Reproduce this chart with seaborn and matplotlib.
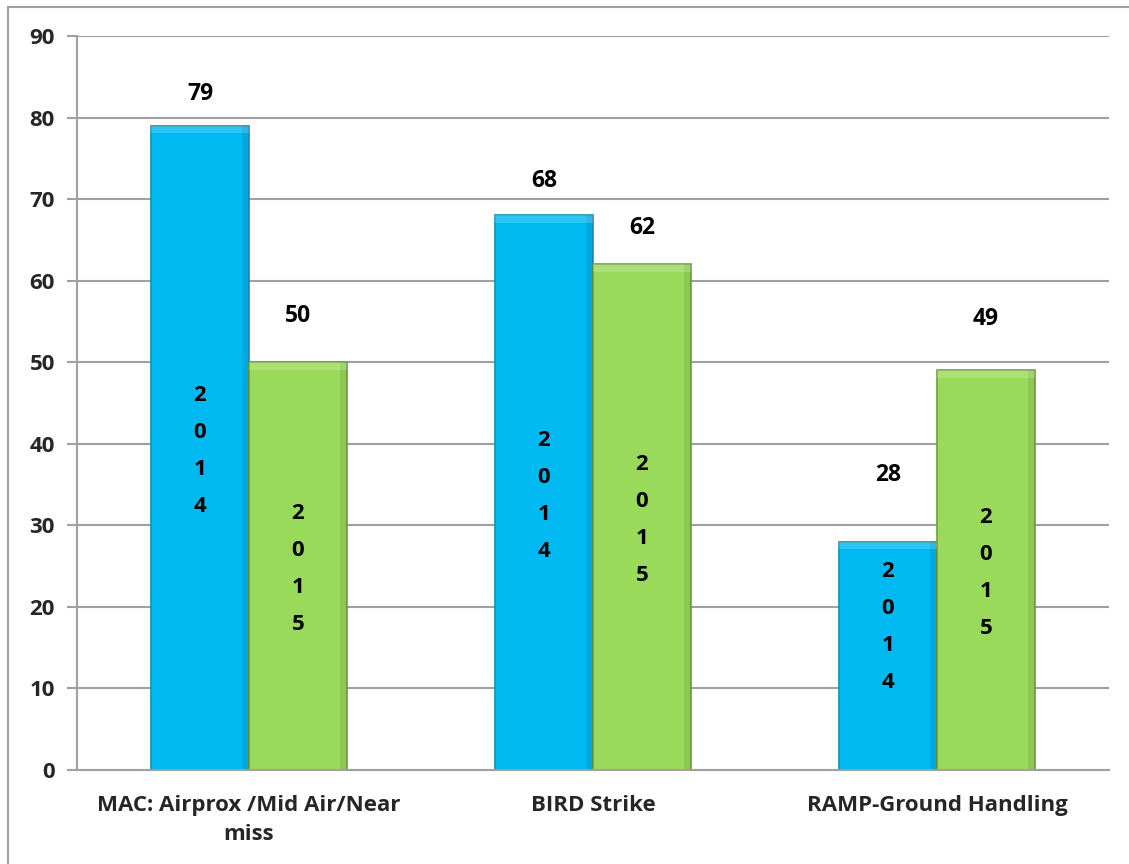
import matplotlib
matplotlib.use("Agg")
import matplotlib.pyplot as plt
import seaborn as sns
import pandas as pd
from matplotlib.patches import Rectangle

categories = ["MAC: Airprox /Mid Air/Near\nmiss", "BIRD Strike", "RAMP-Ground Handling"]
years = ["2014", "2015"]
values_2014 = [79, 68, 28]
values_2015 = [50, 62, 49]

df = pd.DataFrame({
    "category": categories * 2,
    "year": [years[0]] * 3 + [years[1]] * 3,
    "value": values_2014 + values_2015,
})

sns.set_theme(style="white")
plt.rcParams["font.family"] = ["Open Sans", "DejaVu Sans"]

fig = plt.figure(figsize=(11.29, 8.64), dpi=100)
ax = fig.add_axes([0.0682, 0.1088, 0.9141, 0.8495])

palette = {"2014": "#00B9F1", "2015": "#9ADA5A"}
edges = {"2014": "#1B8CB5", "2015": "#6E9E3C"}
sns.barplot(data=df, x="category", y="value", hue="year", order=categories,
            hue_order=years, palette=palette, width=0.57, gap=0, ax=ax,
            legend=False, saturation=1, linewidth=0)

FS = 16
ax.set_ylim(0, 90)
ax.set_xlim(-0.5, 2.5)
ax.set_yticks(range(0, 91, 10))
ax.set_yticklabels([str(v) for v in range(0, 91, 10)], fontsize=FS, fontweight="bold")
ax.set_xticks(range(3))
ax.set_xticklabels(categories, fontsize=FS, fontweight="bold", linespacing=1.5)
ax.set_xticks([-0.5, 0.5, 1.5, 2.5], minor=True)
ax.tick_params(axis="x", which="major", length=0, pad=18)
ax.tick_params(axis="x", which="minor", length=7, width=1.5, color="#A0A0A0", direction="out")
ax.tick_params(axis="y", length=7, width=1.5, color="#A0A0A0", direction="out", pad=9, left=True)
ax.set_xlabel("")
ax.set_ylabel("")
ax.yaxis.grid(True, color="#A0A0A0", linewidth=1.5)
ax.set_axisbelow(True)
for s in ["top", "right"]:
    ax.spines[s].set_visible(False)
for s in ["left", "bottom"]:
    ax.spines[s].set_color("#A0A0A0")
    ax.spines[s].set_linewidth(1.5)

# value label nudges in points (style)
offsets = [[23, 33], [25, 26], [48, 37]]

for ci, container in enumerate(ax.containers):
    yr = years[ci]
    for j, bar in enumerate(container.patches):
        x0, w, h = bar.get_x(), bar.get_width(), bar.get_height()
        bar.set_edgecolor(edges[yr])
        bar.set_linewidth(1.2)
        z = bar.get_zorder() + 0.1
        # subtle bevel: darker right edge strip, lighter top strip
        ax.add_patch(Rectangle((x0 + w * 0.93, 0), w * 0.07, h, facecolor="black",
                               alpha=0.08, linewidth=0, zorder=z))
        ax.add_patch(Rectangle((x0, h - 0.9), w, 0.9, facecolor="white",
                               alpha=0.18, linewidth=0, zorder=z))
        ax.annotate(f"{int(h)}", (x0 + w / 2, h), xytext=(0, offsets[j][ci]),
                    textcoords="offset points", ha="center", va="center",
                    fontsize=FS + 0.5, fontweight="bold", color="black")
        ax.text(x0 + w / 2, h / 2 + (3.5 if h < 35 and yr == "2014" else -0.4), "\n".join(yr),
                ha="center", va="center", fontsize=FS, fontweight="bold",
                linespacing=2.0, color="black", zorder=z + 1)

fig.patches.append(Rectangle((8 / 1129, -0.1), 1.2, 1 - 7 / 864 + 0.1, transform=fig.transFigure,
                             fill=False, edgecolor="#A0A0A0", linewidth=1.5))

fig.savefig("out.png", dpi=100, facecolor="white")
